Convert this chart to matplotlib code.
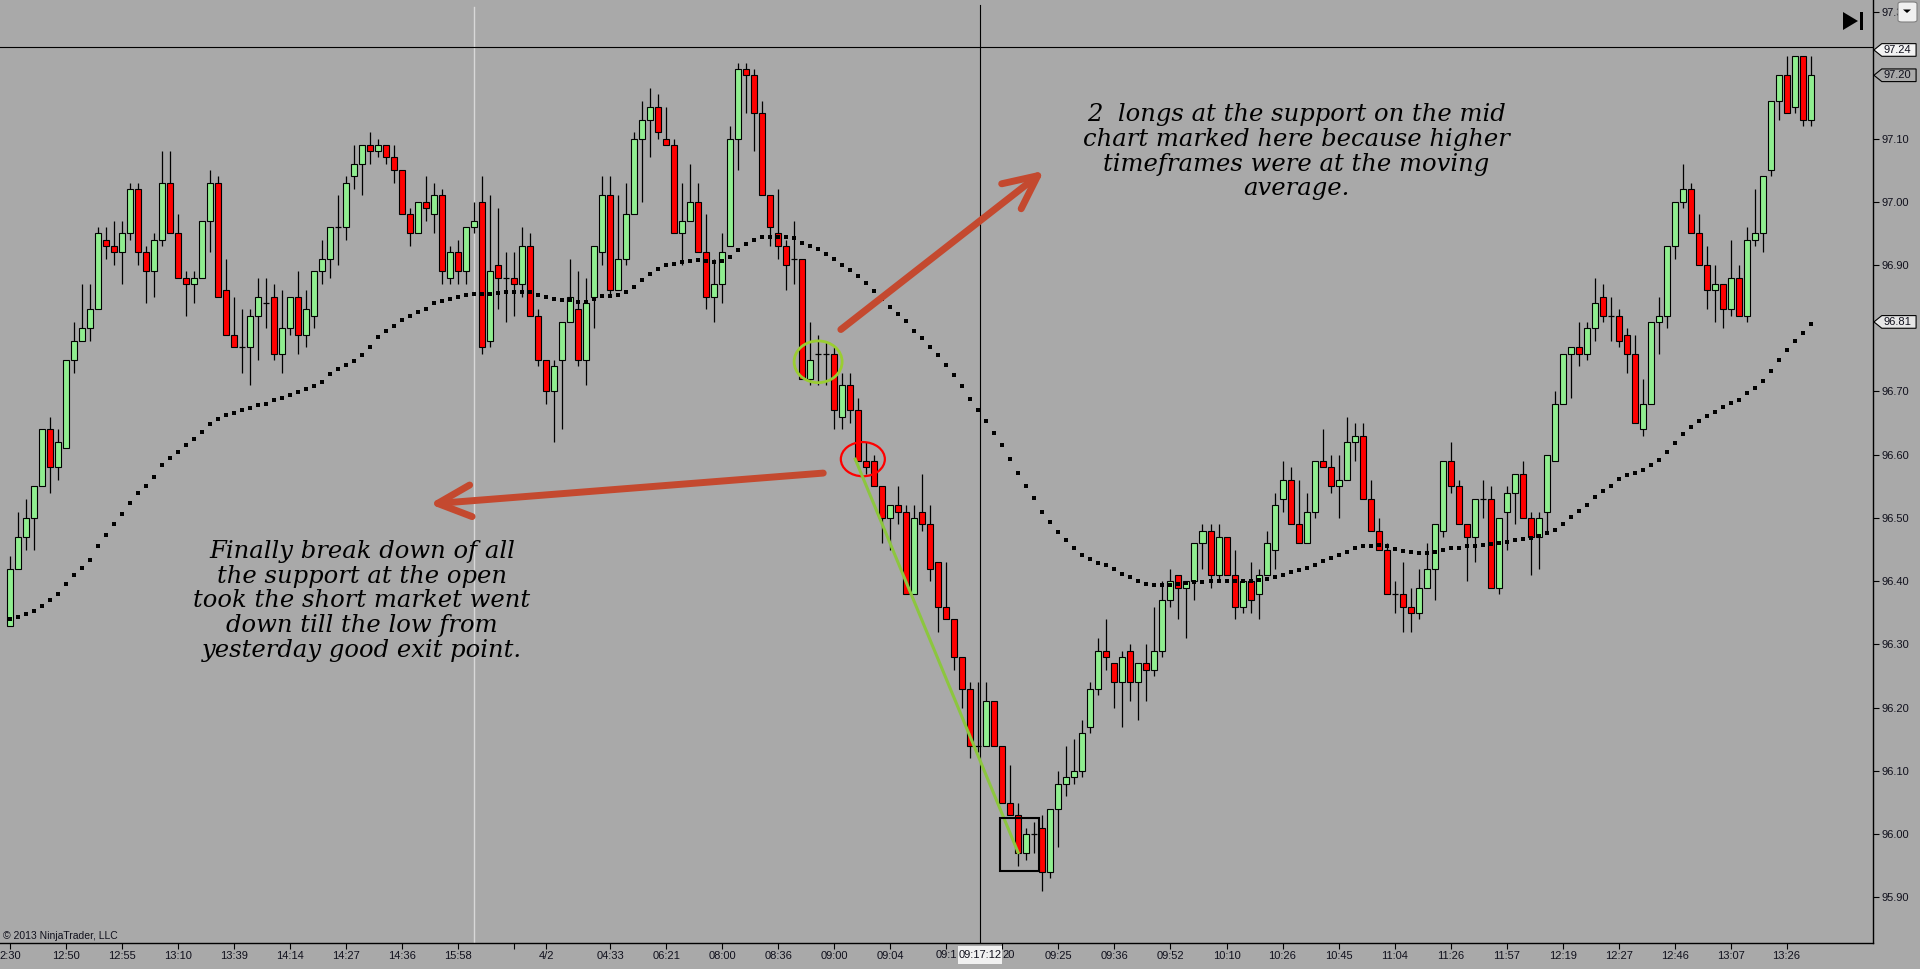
import numpy as np
import matplotlib
matplotlib.use("Agg")
import matplotlib.pyplot as plt
from matplotlib.patches import Ellipse, Rectangle, Polygon, FancyBboxPatch
import matplotlib.transforms as mtransforms

plt.rcParams['font.family'] = ['Liberation Sans', 'DejaVu Sans']

# ---- data (one bar per index) ----
opens = [
    96.33, 96.42, 96.47, 96.50, 96.55, 96.64, 96.58, 96.61, 96.75, 96.78,
    96.80, 96.83, 96.94, 96.93, 96.92, 96.95, 97.02, 96.92, 96.89, 96.94,
    97.03, 96.95, 96.88, 96.87, 96.88, 96.97, 97.03, 96.86, 96.79, 96.77,
    96.77, 96.82, 96.84, 96.85, 96.76, 96.80, 96.85, 96.79, 96.82, 96.89,
    96.91, 96.96, 96.96, 97.04, 97.06, 97.09, 97.08, 97.09, 97.07, 97.05,
    96.98, 96.95, 97.00, 96.98, 97.01, 96.88, 96.92, 96.89, 96.96, 97.00,
    96.78, 96.90, 96.88, 96.88, 96.87, 96.93, 96.82, 96.75, 96.70, 96.75,
    96.81, 96.83, 96.75, 96.85, 96.92, 97.01, 96.86, 96.91, 96.98, 97.10,
    97.13, 97.15, 97.10, 97.09, 96.95, 96.97, 97.00, 96.92, 96.85, 96.87,
    96.93, 97.10, 97.21, 97.20, 97.14, 97.01, 96.95, 96.93, 96.91, 96.91,
    96.72, 96.76, 96.76, 96.76, 96.66, 96.71, 96.67, 96.59, 96.59, 96.55,
    96.50, 96.52, 96.51, 96.38, 96.51, 96.49, 96.43, 96.36, 96.34, 96.28,
    96.23, 96.14, 96.14, 96.21, 96.14, 96.05, 96.03, 95.97, 96.00, 96.01,
    95.94, 96.04, 96.08, 96.09, 96.10, 96.17, 96.23, 96.29, 96.27, 96.24,
    96.29, 96.24, 96.27, 96.26, 96.29, 96.37, 96.41, 96.39, 96.40, 96.46,
    96.48, 96.41, 96.47, 96.41, 96.36, 96.40, 96.38, 96.41, 96.45, 96.53,
    96.56, 96.49, 96.46, 96.51, 96.59, 96.58, 96.55, 96.56, 96.62, 96.63,
    96.53, 96.48, 96.45, 96.38, 96.38, 96.36, 96.35, 96.39, 96.42, 96.48,
    96.59, 96.55, 96.49, 96.47, 96.53, 96.53, 96.39, 96.51, 96.54, 96.57,
    96.50, 96.47, 96.51, 96.59, 96.68, 96.76, 96.77, 96.76, 96.80, 96.85,
    96.82, 96.82, 96.79, 96.76, 96.64, 96.68, 96.81, 96.82, 96.93, 97.00,
    97.02, 96.95, 96.90, 96.86, 96.87, 96.83, 96.88, 96.82, 96.94, 96.95,
    97.05, 97.16, 97.20, 97.15, 97.23, 97.13,
]
highs = [
    96.44, 96.51, 96.53, 96.55, 96.64, 96.66, 96.64, 96.75, 96.81, 96.87,
    96.87, 96.96, 96.96, 96.97, 96.97, 97.03, 97.03, 96.93, 96.95, 97.08,
    97.08, 96.98, 96.89, 96.89, 96.97, 97.05, 97.04, 96.91, 96.85, 96.83,
    96.83, 96.88, 96.88, 96.87, 96.86, 96.85, 96.89, 96.86, 96.89, 96.94,
    96.96, 97.01, 97.04, 97.09, 97.09, 97.11, 97.10, 97.09, 97.09, 97.05,
    96.99, 97.00, 97.04, 97.03, 97.02, 96.93, 96.94, 96.96, 97.00, 97.04,
    97.01, 96.99, 96.92, 96.92, 96.96, 96.95, 96.83, 96.75, 96.75, 96.81,
    96.91, 96.89, 96.88, 96.93, 97.04, 97.04, 97.01, 97.03, 97.11, 97.16,
    97.18, 97.17, 97.15, 97.10, 97.03, 97.06, 97.03, 96.98, 96.91, 96.95,
    97.12, 97.22, 97.22, 97.21, 97.16, 97.01, 97.02, 96.94, 96.97, 96.91,
    96.81, 96.79, 96.78, 96.77, 96.73, 96.73, 96.69, 96.62, 96.60, 96.55,
    96.52, 96.55, 96.52, 96.52, 96.57, 96.52, 96.43, 96.43, 96.34, 96.28,
    96.24, 96.24, 96.24, 96.21, 96.14, 96.11, 96.05, 96.01, 96.02, 96.03,
    96.04, 96.10, 96.14, 96.15, 96.18, 96.24, 96.31, 96.34, 96.27, 96.29,
    96.30, 96.27, 96.30, 96.36, 96.40, 96.42, 96.41, 96.40, 96.46, 96.49,
    96.49, 96.49, 96.47, 96.45, 96.40, 96.43, 96.42, 96.48, 96.54, 96.59,
    96.58, 96.56, 96.54, 96.59, 96.64, 96.60, 96.60, 96.66, 96.65, 96.65,
    96.56, 96.50, 96.46, 96.40, 96.43, 96.39, 96.42, 96.46, 96.49, 96.59,
    96.62, 96.56, 96.49, 96.53, 96.56, 96.55, 96.50, 96.55, 96.57, 96.59,
    96.51, 96.51, 96.60, 96.70, 96.76, 96.77, 96.81, 96.81, 96.88, 96.87,
    96.85, 96.83, 96.80, 96.79, 96.72, 96.81, 96.85, 96.93, 97.00, 97.06,
    97.03, 96.98, 96.93, 96.90, 96.87, 96.94, 96.90, 96.96, 97.02, 97.04,
    97.16, 97.20, 97.23, 97.23, 97.23, 97.23,
]
lows = [
    96.33, 96.42, 96.45, 96.45, 96.55, 96.54, 96.56, 96.61, 96.73, 96.78,
    96.78, 96.83, 96.91, 96.90, 96.87, 96.94, 96.90, 96.84, 96.85, 96.93,
    96.95, 96.88, 96.82, 96.84, 96.88, 96.92, 96.85, 96.79, 96.77, 96.73,
    96.71, 96.75, 96.80, 96.75, 96.73, 96.79, 96.76, 96.77, 96.80, 96.87,
    96.88, 96.90, 96.94, 97.02, 97.01, 97.06, 97.07, 97.06, 97.03, 96.98,
    96.93, 96.95, 96.97, 96.95, 96.87, 96.87, 96.87, 96.87, 96.95, 96.76,
    96.77, 96.83, 96.81, 96.82, 96.85, 96.82, 96.74, 96.68, 96.62, 96.64,
    96.81, 96.74, 96.71, 96.80, 96.90, 96.85, 96.86, 96.90, 96.98, 97.00,
    97.07, 97.10, 97.09, 96.95, 96.90, 96.97, 96.92, 96.83, 96.81, 96.84,
    96.93, 97.05, 97.14, 97.08, 97.01, 96.93, 96.91, 96.86, 96.87, 96.72,
    96.71, 96.71, 96.71, 96.64, 96.64, 96.65, 96.59, 96.57, 96.55, 96.46,
    96.45, 96.49, 96.38, 96.38, 96.48, 96.40, 96.32, 96.34, 96.26, 96.20,
    96.12, 96.13, 96.14, 96.14, 96.05, 96.03, 95.95, 95.96, 95.97, 95.91,
    95.93, 95.98, 96.06, 96.08, 96.09, 96.16, 96.22, 96.26, 96.20, 96.17,
    96.21, 96.18, 96.21, 96.25, 96.28, 96.36, 96.34, 96.31, 96.37, 96.42,
    96.39, 96.40, 96.41, 96.34, 96.35, 96.35, 96.34, 96.41, 96.42, 96.51,
    96.49, 96.46, 96.46, 96.50, 96.58, 96.54, 96.50, 96.56, 96.59, 96.53,
    96.48, 96.45, 96.38, 96.35, 96.32, 96.32, 96.34, 96.39, 96.37, 96.47,
    96.54, 96.49, 96.40, 96.43, 96.50, 96.39, 96.38, 96.45, 96.49, 96.50,
    96.41, 96.42, 96.48, 96.59, 96.68, 96.69, 96.74, 96.75, 96.78, 96.81,
    96.78, 96.77, 96.73, 96.65, 96.63, 96.68, 96.76, 96.80, 96.91, 96.99,
    96.95, 96.90, 96.83, 96.81, 96.80, 96.82, 96.82, 96.81, 96.93, 96.92,
    97.04, 97.13, 97.14, 97.14, 97.12, 97.12,
]
closes = [
    96.42, 96.47, 96.50, 96.55, 96.64, 96.58, 96.62, 96.75, 96.78, 96.80,
    96.83, 96.95, 96.93, 96.92, 96.95, 97.02, 96.92, 96.89, 96.94, 97.03,
    96.95, 96.88, 96.87, 96.88, 96.97, 97.03, 96.85, 96.79, 96.77, 96.77,
    96.82, 96.85, 96.84, 96.76, 96.80, 96.85, 96.79, 96.83, 96.89, 96.91,
    96.96, 96.96, 97.03, 97.06, 97.09, 97.08, 97.09, 97.07, 97.05, 96.98,
    96.95, 97.00, 96.99, 97.01, 96.89, 96.92, 96.89, 96.96, 96.97, 96.77,
    96.89, 96.88, 96.88, 96.87, 96.93, 96.82, 96.75, 96.70, 96.74, 96.81,
    96.85, 96.75, 96.84, 96.93, 97.01, 96.86, 96.91, 96.98, 97.10, 97.13,
    97.15, 97.11, 97.09, 96.95, 96.97, 97.00, 96.92, 96.85, 96.87, 96.92,
    97.10, 97.21, 97.20, 97.14, 97.01, 96.96, 96.93, 96.90, 96.91, 96.72,
    96.75, 96.76, 96.76, 96.67, 96.71, 96.67, 96.59, 96.58, 96.55, 96.50,
    96.52, 96.51, 96.38, 96.50, 96.49, 96.42, 96.36, 96.34, 96.28, 96.23,
    96.14, 96.14, 96.21, 96.14, 96.05, 96.03, 95.97, 96.00, 96.00, 95.94,
    96.04, 96.08, 96.09, 96.10, 96.16, 96.23, 96.29, 96.28, 96.24, 96.28,
    96.24, 96.27, 96.26, 96.29, 96.37, 96.40, 96.39, 96.40, 96.46, 96.48,
    96.41, 96.47, 96.41, 96.36, 96.40, 96.37, 96.41, 96.46, 96.52, 96.56,
    96.49, 96.46, 96.51, 96.59, 96.58, 96.55, 96.56, 96.62, 96.63, 96.53,
    96.48, 96.45, 96.38, 96.38, 96.36, 96.35, 96.39, 96.42, 96.49, 96.59,
    96.55, 96.49, 96.47, 96.53, 96.53, 96.39, 96.50, 96.54, 96.57, 96.50,
    96.47, 96.50, 96.60, 96.68, 96.76, 96.77, 96.76, 96.80, 96.84, 96.82,
    96.82, 96.78, 96.76, 96.65, 96.68, 96.81, 96.82, 96.93, 97.00, 97.02,
    96.95, 96.90, 96.86, 96.87, 96.83, 96.88, 96.82, 96.94, 96.95, 97.04,
    97.16, 97.20, 97.14, 97.23, 97.13, 97.20,
]
# moving average (dotted line)
ma = [
    96.341, 96.344, 96.348, 96.353, 96.361, 96.370, 96.380, 96.395, 96.410, 96.421,
    96.434, 96.455, 96.473, 96.490, 96.507, 96.524, 96.539, 96.551, 96.565, 96.583,
    96.595, 96.604, 96.615, 96.625, 96.636, 96.649, 96.657, 96.663, 96.666, 96.670,
    96.674, 96.678, 96.681, 96.686, 96.690, 96.695, 96.699, 96.704, 96.709, 96.715,
    96.727, 96.735, 96.742, 96.749, 96.757, 96.771, 96.786, 96.796, 96.804, 96.813,
    96.820, 96.825, 96.830, 96.840, 96.843, 96.846, 96.850, 96.852, 96.854, 96.854,
    96.854, 96.856, 96.857, 96.857, 96.858, 96.858, 96.853, 96.850, 96.847, 96.845,
    96.844, 96.842, 96.841, 96.846, 96.851, 96.851, 96.853, 96.857, 96.866, 96.876,
    96.886, 96.894, 96.900, 96.902, 96.904, 96.907, 96.908, 96.906, 96.905, 96.906,
    96.913, 96.923, 96.933, 96.940, 96.944, 96.945, 96.944, 96.944, 96.942, 96.935,
    96.930, 96.925, 96.918, 96.910, 96.900, 96.892, 96.882, 96.871, 96.859, 96.847,
    96.834, 96.823, 96.812, 96.796, 96.784, 96.771, 96.758, 96.742, 96.726, 96.708,
    96.688, 96.670, 96.654, 96.634, 96.615, 96.593, 96.571, 96.550, 96.531, 96.509,
    96.493, 96.478, 96.465, 96.453, 96.441, 96.435, 96.429, 96.426, 96.419, 96.411,
    96.406, 96.400, 96.396, 96.394, 96.394, 96.394, 96.396, 96.397, 96.398, 96.399,
    96.400, 96.401, 96.401, 96.401, 96.401, 96.401, 96.402, 96.404, 96.407, 96.410,
    96.414, 96.417, 96.421, 96.426, 96.432, 96.437, 96.442, 96.447, 96.453, 96.455,
    96.456, 96.458, 96.455, 96.451, 96.448, 96.446, 96.445, 96.444, 96.446, 96.449,
    96.452, 96.453, 96.455, 96.456, 96.458, 96.459, 96.460, 96.462, 96.465, 96.467,
    96.469, 96.472, 96.476, 96.481, 96.490, 96.501, 96.511, 96.521, 96.533, 96.542,
    96.551, 96.561, 96.568, 96.571, 96.576, 96.584, 96.591, 96.604, 96.619, 96.633,
    96.644, 96.654, 96.662, 96.668, 96.675, 96.682, 96.687, 96.697, 96.706, 96.717,
    96.732, 96.750, 96.765, 96.780, 96.792, 96.807,
]

# x axis labels (bar index -> text); 09:1x and x:20 are partly hidden by the cursor tag
tick_pos = [0, 7, 14, 21, 28, 35, 42, 49, 56, 63, 67, 75, 82, 89, 96, 103, 110,
            131, 138, 145, 152, 159, 166, 173, 180, 187, 194, 201, 208, 215, 222]
tick_lbl = ['2:30', '12:50', '12:55', '13:10', '13:39', '14:14', '14:27', '14:36', '15:58', '',
            '4/2', '04:33', '06:21', '08:00', '08:36', '09:00', '09:04',
            '09:25', '09:36', '09:52', '10:10', '10:26', '10:45', '11:04', '11:26', '11:57',
            '12:19', '12:27', '12:46', '13:07', '13:26']
hidden_pos = [117, 124]
hidden_lbl = ['09:1', '20']
# 96.80 and 97.20 are hidden behind the price tags
price_ticks = [95.9, 96.0, 96.1, 96.2, 96.3, 96.4, 96.5, 96.6, 96.7, 96.9, 97.0, 97.1, 97.3]
tag_prices = [97.24, 97.20, 96.81]
cursor_price = 97.245
cursor_bar = 121.17
cursor_time = '09:17:12'

note_top = ("2  longs at the support on the mid\nchart marked here because higher\n"
            "timeframes were at the moving\naverage.")
note_bottom = ("Finally break down of all\nthe support at the open\ntook the short market went\n"
               "down till the low from\nyesterday good exit point.")

BG = '#A9A9A9'
UP = '#90EE90'
DOWN = '#FF0000'
ARROW = '#C4492F'
TXT = '#10101c'

W, H = 1920, 969
fig = plt.figure(figsize=(W / 100, H / 100), dpi=100, facecolor=BG)
ax = fig.add_axes([0, 1 - 943 / H, 1873 / W, 943 / H])
ax.set_facecolor(BG)
ax.set_xlim(-1.29, 232.8)
ax.set_ylim(95.828, 97.319)

for s in ['top', 'left']:
    ax.spines[s].set_visible(False)
for s in ['right', 'bottom']:
    ax.spines[s].set_color('black')
    ax.spines[s].set_linewidth(1.0)

o = np.array(opens); h = np.array(highs); l = np.array(lows); c = np.array(closes)
x = np.arange(len(o))

# session break line
ax.axvline(58.0, ymax=0.993, color='#D8D8D8', lw=1.0, zorder=1)

# candles
ax.vlines(x, l, h, color='black', lw=0.9, zorder=2)
body = c != o
cols = np.where(c > o, UP, DOWN)
ax.bar(x[body], (c - o)[body], bottom=o[body], width=0.75, color=cols[body],
       edgecolor='black', linewidth=0.8, zorder=3)
ax.hlines(o[~body], x[~body] - 0.375, x[~body] + 0.375, color='black', lw=0.9, zorder=3)

# moving average dots
ax.plot(x, ma, ls='none', marker='s', ms=2.8, mew=0, color='black', zorder=4)

# crosshair
ax.axhline(cursor_price, color='black', lw=0.8, zorder=5)
ax.axvline(cursor_bar, ymax=0.995, color='black', lw=0.8, zorder=5)

# ticks
ax.yaxis.tick_right()
ax.set_yticks(price_ticks)
ax.set_yticklabels(['%.2f' % p for p in price_ticks])
ax.set_xticks(tick_pos + hidden_pos)
ax.set_xticklabels(tick_lbl + [''] * len(hidden_pos))
ax.tick_params(axis='y', length=4, width=0.8, pad=2, labelsize=8, labelcolor=TXT)
ax.tick_params(axis='x', length=4, width=0.8, pad=2, labelsize=8, labelcolor=TXT)

# drawn annotations
ax.add_patch(Ellipse((100.96, 96.747), 6.0, 0.066, fill=False, ec='#9ACD32', lw=2.0, zorder=6))
ax.add_patch(Ellipse((106.55, 96.593), 5.5, 0.054, fill=False, ec='#FF0000', lw=1.6, zorder=6))
ax.plot([105.6, 125.96], [96.593, 95.971], color='#8CC63F', lw=2.2, zorder=6)
ax.add_patch(Rectangle((123.68, 95.942), 4.87, 0.084, fill=False, ec='black', lw=1.5, zorder=6))

astyle = '->,head_length=0.8,head_width=0.38'
ax.annotate('', xy=(129.2, 97.049), xytext=(103.8, 96.798),
            arrowprops=dict(arrowstyle=astyle, lw=5, color=ARROW, shrinkA=0, shrinkB=0,
                            mutation_scale=30), zorder=7)
ax.annotate('', xy=(52.4, 96.522), xytext=(101.6, 96.571),
            arrowprops=dict(arrowstyle=astyle, lw=5, color=ARROW, shrinkA=0, shrinkB=0,
                            mutation_scale=30), zorder=7)

ax.text(160.7, 97.079, note_top, ha='center', va='center', fontsize=17.5,
        family='DejaVu Serif', style='italic', linespacing=1.1, color='black', zorder=8)
ax.text(43.96, 96.369, note_bottom, ha='center', va='center', fontsize=17.5,
        family='DejaVu Serif', style='italic', linespacing=1.1, color='black', zorder=8)

# price tags on the right axis
ytr = mtransforms.blended_transform_factory(ax.transAxes, ax.transData)
def price_tag(p, fill):
    hh = 0.0100
    x0, xn, x1 = 1.0005, 1.0047, 1.0230
    pts = [(x0, p), (xn, p + hh), (x1, p + hh), (x1, p - hh), (xn, p - hh)]
    ax.add_patch(Polygon(pts, closed=True, transform=ytr, fc=fill, ec='black',
                         lw=0.8, clip_on=False, zorder=10))
    ax.text(1.0055, p, '%.2f' % p, transform=ytr, ha='left', va='center',
            fontsize=8, color=TXT, clip_on=False, zorder=11)

for p, fill in zip(tag_prices, ['#F2F2F2', BG, '#E6E6E6']):
    price_tag(p, fill)

# time tag on the x axis, with the partly hidden labels either side
xtr = mtransforms.blended_transform_factory(ax.transData, ax.transAxes)
ax.add_patch(Rectangle((cursor_bar - 2.75, -0.0225), 5.5, 0.019, transform=xtr, fc='#F0F0F0',
                       ec='none', clip_on=False, zorder=10))
ax.text(cursor_bar, -0.013, cursor_time, transform=xtr, ha='center', va='center',
        fontsize=8, color=TXT, clip_on=False, zorder=11)
ax.text(cursor_bar - 2.8, -0.013, hidden_lbl[0], transform=xtr, ha='right', va='center',
        fontsize=8, color=TXT, clip_on=False)
ax.text(cursor_bar + 2.8, -0.013, hidden_lbl[1], transform=xtr, ha='left', va='center',
        fontsize=8, color=TXT, clip_on=False)

# top-right widgets (figure pixel coords)
def fp(px, py):
    return (px / W, 1 - py / H)

fig.add_artist(Polygon([fp(1843, 12), fp(1843, 30), fp(1858, 21)], closed=True,
                       transform=fig.transFigure, fc='black', ec='none'))
fig.add_artist(Rectangle(fp(1860, 30), 3 / W, 18 / H, transform=fig.transFigure,
                         fc='black', ec='none'))
fig.add_artist(FancyBboxPatch(fp(1898, 22), 19 / W, 20 / H,
                              boxstyle='round,pad=0,rounding_size=0.002',
                              transform=fig.transFigure, fc='#F0F0F0', ec='#808080', lw=0.8))
fig.add_artist(Polygon([fp(1903, 9.5), fp(1911, 9.5), fp(1907, 13)], closed=True,
                       transform=fig.transFigure, fc='black', ec='none'))

fig.text(3 / W, 1 - 936 / H, '\u00a9 2013 NinjaTrader, LLC', fontsize=7.5, color=TXT,
         ha='left', va='center')

fig.savefig('out.png', dpi=100, facecolor=BG)
